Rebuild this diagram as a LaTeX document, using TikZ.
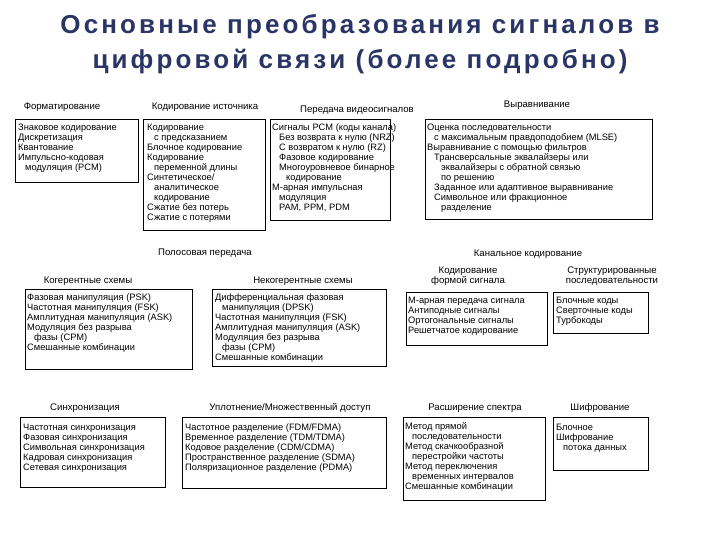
\documentclass[tikz,border=0pt]{standalone}
\usepackage{fontspec}
\setmainfont{Liberation Sans}
\newfontfamily\ttlfont[LetterSpace=12]{Liberation Sans}
\definecolor{ttlc}{HTML}{2A3566}
\newcommand{\ind}{\hspace*{7pt}}
\begin{document}
\begin{tikzpicture}[x=1pt,y=-1pt,
  box/.style={draw,line width=1.1pt,anchor=north west,inner sep=0pt},
  txt/.style={anchor=north west,align=left,inner sep=0pt,font=\fontsize{9.3}{10}\selectfont},
  hd/.style={align=center,inner sep=0pt,font=\fontsize{9.6}{10.5}\selectfont},
  ttl/.style={font=\ttlfont\fontsize{26}{28}\selectfont\bfseries,text=ttlc}]
\useasboundingbox (0,0) rectangle (720,540);
\node[ttl] (t1) at (360,27) {Основные преобразования сигналов в};
\node[ttl] (t2) at (360,62) {цифровой связи (более подробно)};
% row 1
\node[hd] (h1) at (62,107) {Форматирование};
\node[hd] (h2) at (205,107) {Кодирование источника};
\node[hd] (h3) at (357,110) {Передача видеосигналов};
\node[hd] (h4) at (537,105) {Выравнивание};
\node[box,minimum width=123pt,minimum height=63pt] (b1) at (15,119) {};
\node[txt] (x1) at (18,124) {Знаковое кодирование\\Дискретизация\\Квантование\\Импульсно-кодовая\\\ind модуляция (PCM)};
\node[box,minimum width=122pt,minimum height=111pt] (b2) at (143,119) {};
\node[txt] (x2) at (147,124) {Кодирование\\\ind с предсказанием\\Блочное кодирование\\Кодирование\\\ind переменной длины\\Синтетическое/\\\ind аналитическое\\\ind кодирование\\Сжатие без потерь\\Сжатие с потерями};
\node[box,minimum width=120pt,minimum height=101pt] (b3) at (270,119) {};
\node[txt] (x3) at (272,124) {Сигналы PCM (коды канала)\\\ind Без возврата к нулю (NRZ)\\\ind С возвратом к нулю (RZ)\\\ind Фазовое кодирование\\\ind Многоуровневое бинарное\\\ind\ind кодирование\\M-арная импульсная\\\ind модуляция\\\ind PAM, PPM, PDM};
\node[box,minimum width=227pt,minimum height=100pt] (b4) at (425,119) {};
\node[txt] (x4) at (427,124) {Оценка последовательности\\\ind с максимальным правдоподобием (MLSE)\\Выравнивание с помощью фильтров\\\ind Трансверсальные эквалайзеры или\\\ind\ind эквалайзеры с обратной связью\\\ind\ind по решению\\\ind Заданное или адаптивное выравнивание\\\ind Символьное или фракционное\\\ind\ind разделение};
% row 2
\node[hd] (h5) at (205,253) {Полосовая передача};
\node[hd] (h6) at (88,281) {Когерентные схемы};
\node[hd] (h7) at (303,281) {Некогерентные схемы};
\node[box,minimum width=167pt,minimum height=80pt] (b5) at (25,289) {};
\node[txt] (x5) at (27,294) {Фазовая манипуляция (PSK)\\Частотная манипуляция (FSK)\\Амплитудная манипуляция (ASK)\\Модуляция без разрыва\\\ind фазы (CPM)\\Смешанные комбинации};
\node[box,minimum width=174pt,minimum height=77pt] (b6) at (212,289) {};
\node[txt] (x6) at (215,294) {Дифференциальная фазовая\\\ind манипуляция (DPSK)\\Частотная манипуляция (FSK)\\Амплитудная манипуляция (ASK)\\Модуляция без разрыва\\\ind фазы (CPM)\\Смешанные комбинации};
\node[hd] (h8) at (528,254) {Канальное кодирование};
\node[hd] (h9) at (468,276) {Кодирование\\формой сигнала};
\node[hd] (h10) at (612,276) {Структурированные\\последовательности};
\node[box,minimum width=141pt,minimum height=53pt] (b7) at (406,292) {};
\node[txt] (x7) at (408,297) {M-арная передача сигнала\\Антиподные сигналы\\Ортогональные сигналы\\Решетчатое кодирование};
\node[box,minimum width=95pt,minimum height=41pt] (b8) at (553,292) {};
\node[txt] (x8) at (556,297) {Блочные коды\\Сверточные коды\\Турбокоды};
% row 3
\node[hd] (h11) at (85,408) {Синхронизация};
\node[hd] (h12) at (290,408) {Уплотнение/Множественный доступ};
\node[hd] (h13) at (475,408) {Расширение спектра};
\node[hd] (h14) at (600,408) {Шифрование};
\node[box,minimum width=145pt,minimum height=70pt] (b9) at (20,417) {};
\node[txt] (x9) at (23,424) {Частотная синхронизация\\Фазовая синхронизация\\Символьная синхронизация\\Кадровая синхронизация\\Сетевая синхронизация};
\node[box,minimum width=204pt,minimum height=71pt] (b10) at (182,417) {};
\node[txt] (x10) at (185,424) {Частотное разделение (FDM/FDMA)\\Временное разделение (TDM/TDMA)\\Кодовое разделение (CDM/CDMA)\\Пространственное разделение (SDMA)\\Поляризационное разделение (PDMA)};
\node[box,minimum width=142pt,minimum height=83pt] (b11) at (403,417) {};
\node[txt] (x11) at (405,422) {Метод прямой\\\ind последовательности\\Метод скачкообразной\\\ind перестройки частоты\\Метод переключения\\\ind временных интервалов\\Смешанные комбинации};
\node[box,minimum width=95pt,minimum height=53pt] (b12) at (553,417) {};
\node[txt] (x12) at (556,424) {Блочное\\Шифрование\\\ind потока данных};
\end{tikzpicture}
\end{document}
